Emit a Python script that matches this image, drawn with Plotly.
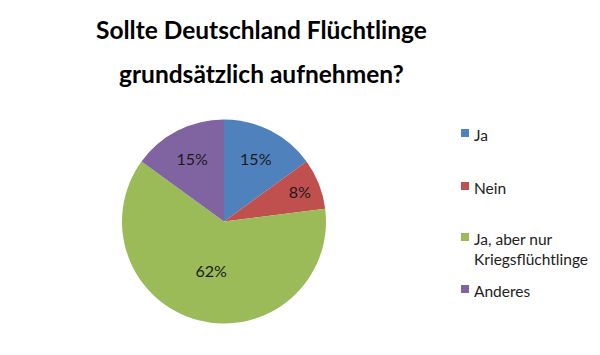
import plotly.graph_objects as go

labels = ["Ja", "Nein", "Ja, aber nur<br>Kriegsflüchtlinge", "Anderes"]
values = [15, 8, 62, 15]
colors = ["#4F81BD", "#C0504D", "#9BBB59", "#8064A2"]
title_lines = ["Sollte Deutschland Flüchtlinge", "grundsätzlich aufnehmen?"]

FONT = "Lato"
W, H = 600, 355

fig = go.Figure(go.Pie(
    labels=labels, values=values, sort=False, direction="clockwise", rotation=0,
    marker=dict(colors=colors, line=dict(width=0)),
    texttemplate="%{value}%", textposition="inside", insidetextorientation="horizontal",
    textfont=dict(family=FONT, size=16, color="#1a1a1a"),
    hoverinfo="label+percent", showlegend=False,
    domain=dict(x=[(224 - 102) / W, (224 + 102) / W], y=[(H - 221.5 - 102) / H, (H - 221.5 + 102) / H]),
))

annotations = []
title_y = [29, 74]
for line, yy in zip(title_lines, title_y):
    annotations.append(dict(text=f"<b>{line}</b>", x=261 / W, y=1 - yy / H, xref="paper", yref="paper",
                            xanchor="center", yanchor="middle", showarrow=False,
                            font=dict(family=FONT, size=24.5, color="#000000")))

legend_y = [133, 186, 237, 289]
shapes = []
for lab, col, yy in zip(labels, colors, legend_y):
    annotations.append(dict(text=lab, x=472 / W, y=1 - (yy - 9) / H, xref="paper", yref="paper",
                            xanchor="left", yanchor="top", align="left", showarrow=False,
                            font=dict(family=FONT, size=15.5, color="#222222")))
    shapes.append(dict(type="rect", xref="paper", yref="paper",
                       x0=461 / W, x1=469 / W, y0=1 - (yy + 4) / H, y1=1 - (yy - 4) / H,
                       fillcolor=col, line=dict(width=0)))

fig.update_layout(width=W, height=H, margin=dict(l=0, r=0, t=0, b=0),
                  paper_bgcolor="white", plot_bgcolor="white",
                  annotations=annotations, shapes=shapes)
fig.write_html("out.html", config={"displayModeBar": False},
               post_script="document.body.style.margin='0';")
